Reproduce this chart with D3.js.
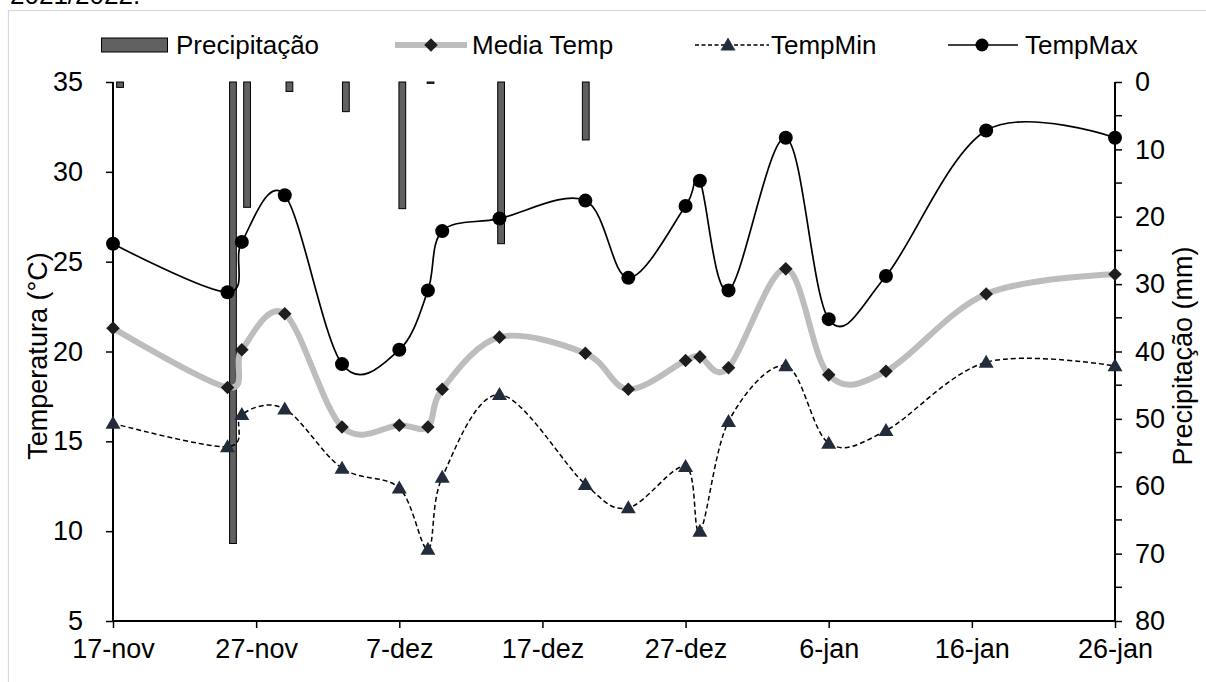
<!DOCTYPE html>
<html>
<head>
<meta charset="utf-8">
<script src="https://cdn.jsdelivr.net/npm/d3@7"></script>
<style>
  html, body { margin: 0; padding: 0; background: #fff; }
  svg { display: block; font-family: "Liberation Sans", Arial, sans-serif; }
</style>
</head>
<body>
<script>
// Observation dates (2021/2022 season)
const dates = ["2021-11-17","2021-11-25","2021-11-26","2021-11-29","2021-12-03","2021-12-07",
  "2021-12-09","2021-12-10","2021-12-14","2021-12-20","2021-12-23","2021-12-27","2021-12-28",
  "2021-12-30","2022-01-03","2022-01-06","2022-01-10","2022-01-17","2022-01-26"];

// Temperatures (°C)
const tempMax   = [26.0, 23.3, 26.1, 28.7, 19.3, 20.1, 23.4, 26.7, 27.4, 28.4, 24.1, 28.1, 29.5, 23.4, 31.9, 21.8, 24.2, 32.3, 31.9];
const mediaTemp = [21.3, 18.0, 20.1, 22.1, 15.8, 15.9, 15.8, 17.9, 20.8, 19.9, 17.9, 19.5, 19.7, 19.1, 24.6, 18.7, 18.9, 23.2, 24.3];
const tempMin   = [16.0, 14.7, 16.5, 16.8, 13.5, 12.4,  9.0, 13.0, 17.6, 12.6, 11.3, 13.6, 10.0, 16.1, 19.2, 14.9, 15.6, 19.4, 19.2];

// Rainfall (mm)
const precip    = [0.8, 68.5, 18.6, 1.4, 4.4, 18.8, 0.2, 0, 24.0, 8.6, 0, 0, 0, 0, 0, 0, 0, 0, 0];

// Axis ticks
const xTickDates  = ["2021-11-17","2021-11-27","2021-12-07","2021-12-17","2021-12-27","2022-01-06","2022-01-16","2022-01-26"];
const xTickLabels = ["17-nov","27-nov","7-dez","17-dez","27-dez","6-jan","16-jan","26-jan"];
const tempTicks   = [5, 10, 15, 20, 25, 30, 35];
const precipTicks = [0, 10, 20, 30, 40, 50, 60, 70, 80];

const W = 1206, H = 682;
const plotL = 113, plotR = 1115, plotT = 82, plotB = 621;
const FONT = 26, TICK_FONT = 27, TITLE_FONT = 27;

const parse = d3.utcParse("%Y-%m-%d");
const day = d3.utcDay;
const start = parse(dates[0]), end = parse(dates[dates.length - 1]);

const svg = d3.select("body").append("svg").attr("width", W).attr("height", H);

// outer frame and the caption line above it
svg.append("rect").attr("x", 8.5).attr("y", 10.5).attr("width", 1210).attr("height", 700)
  .attr("fill", "none").attr("stroke", "#d9d9d9").attr("stroke-width", 1.2);
svg.append("text").attr("x", 10).attr("y", 3.5).attr("font-size", FONT).attr("fill", "#000")
  .text("2021/2022.");

const x = d3.scaleUtc().domain([start, end]).range([plotL, plotR]);
const yT = d3.scaleLinear().domain([5, 35]).range([plotB, plotT]);
const yP = d3.scaleLinear().domain([0, 80]).range([plotT, plotB]);

// one slot per day for the rainfall columns
const dayIndex = d3.range(day.count(start, end) + 1);
const xBand = d3.scaleBand().domain(dayIndex).range([plotL, plotR]).paddingInner(0.52).paddingOuter(0.26);

const rows = dates.map((d, i) => ({
  date: parse(d), di: day.count(start, parse(d)),
  tmax: tempMax[i], tmed: mediaTemp[i], tmin: tempMin[i], p: precip[i]
}));

// rainfall columns hanging from the top (reversed secondary axis)
svg.append("g").selectAll("rect")
  .data(rows.filter(r => r.p > 0))
  .join("rect")
  .attr("x", r => xBand(r.di))
  .attr("y", yP(0))
  .attr("width", xBand.bandwidth())
  .attr("height", r => Math.max(1, yP(r.p) - yP(0)))
  .attr("fill", "#606060")
  .attr("stroke", "#000")
  .attr("stroke-width", 1);

// axes
const axisG = svg.append("g").attr("fill", "#000");

const ax = axisG.append("g").attr("transform", `translate(0,${plotB})`)
  .call(d3.axisBottom(x).tickValues(xTickDates.map(parse)).tickSize(7).tickPadding(11)
    .tickFormat((d, i) => xTickLabels[i]));
const ayl = axisG.append("g").attr("transform", `translate(${plotL},0)`)
  .call(d3.axisLeft(yT).tickValues(tempTicks).tickSize(7).tickPadding(23));
const ayr = axisG.append("g").attr("transform", `translate(${plotR},0)`)
  .call(d3.axisRight(yP).tickValues(precipTicks).tickSize(7).tickPadding(13));
// minor ticks on the rainfall axis
axisG.append("g").selectAll("line")
  .data(d3.range(5, 80, 10))
  .join("line")
  .attr("x1", plotR).attr("x2", plotR + 7)
  .attr("y1", d => yP(d)).attr("y2", d => yP(d))
  .attr("stroke", "#000").attr("stroke-width", 1.5);

[ax, ayl, ayr].forEach(g => {
  g.attr("font-size", TICK_FONT).attr("font-family", null);
  g.selectAll(".domain").attr("stroke", "#000").attr("stroke-width", 2);
  g.selectAll(".tick line").attr("stroke", "#000").attr("stroke-width", 1.5);
  g.selectAll(".tick text").attr("fill", "#000");
});
ax.selectAll(".domain").attr("d", `M${plotL},0H${plotR}`);
ayl.selectAll(".domain").attr("d", `M0,${plotB}V${plotT}`);
ayr.selectAll(".domain").attr("d", `M0,${plotT}V${plotB}`);

// axis titles
const titleY = 356;
svg.append("text")
  .attr("transform", `translate(47,${titleY}) rotate(-90)`)
  .attr("text-anchor", "middle").attr("font-size", TITLE_FONT).attr("fill", "#000")
  .text("Temperatura (°C)");
svg.append("text")
  .attr("transform", `translate(1192,${titleY}) rotate(-90)`)
  .attr("text-anchor", "middle").attr("font-size", TITLE_FONT).attr("fill", "#000")
  .text("Precipitação (mm)");

// smoothed series lines
const curve = d3.curveCardinal.tension(0);
const lineOf = key => d3.line().x(r => x(r.date)).y(r => yT(r[key])).curve(curve);

svg.append("path").datum(rows).attr("d", lineOf("tmed"))
  .attr("fill", "none").attr("stroke", "#bdbdbd").attr("stroke-width", 6);
svg.append("path").datum(rows).attr("d", lineOf("tmin"))
  .attr("fill", "none").attr("stroke", "#000").attr("stroke-width", 1.5).attr("stroke-dasharray", "5,3");
svg.append("path").datum(rows).attr("d", lineOf("tmax"))
  .attr("fill", "none").attr("stroke", "#000").attr("stroke-width", 1.7);

// markers
const diamond = d3.symbol().type(d3.symbolSquare).size(92);
const tri = "M0,-7.5L7.5,5.5L-7.5,5.5Z";

svg.append("g").selectAll("path").data(rows).join("path")
  .attr("d", diamond())
  .attr("transform", r => `translate(${x(r.date)},${yT(r.tmed)}) rotate(45)`)
  .attr("fill", "#1e1e1e");
svg.append("g").selectAll("path").data(rows).join("path")
  .attr("d", tri)
  .attr("transform", r => `translate(${x(r.date)},${yT(r.tmin)})`)
  .attr("fill", "#232c3b");
svg.append("g").selectAll("circle").data(rows).join("circle")
  .attr("cx", r => x(r.date)).attr("cy", r => yT(r.tmax)).attr("r", 7)
  .attr("fill", "#000");

// legend
const lg = svg.append("g").attr("font-size", FONT).attr("fill", "#000");
const ly = 45;
lg.append("rect").attr("x", 101.5).attr("y", 38).attr("width", 66).attr("height", 14)
  .attr("fill", "#606060").attr("stroke", "#000").attr("stroke-width", 1);
lg.append("text").attr("x", 176).attr("y", ly + 9).text("Precipitação");

lg.append("line").attr("x1", 395).attr("x2", 467).attr("y1", ly).attr("y2", ly)
  .attr("stroke", "#bdbdbd").attr("stroke-width", 6);
lg.append("path").attr("d", diamond()).attr("transform", `translate(431,${ly}) rotate(45)`).attr("fill", "#1e1e1e");
lg.append("text").attr("x", 472).attr("y", ly + 9).text("Media Temp");

lg.append("line").attr("x1", 695).attr("x2", 769).attr("y1", ly).attr("y2", ly)
  .attr("stroke", "#000").attr("stroke-width", 1.4).attr("stroke-dasharray", "4,2.5");
lg.append("path").attr("d", tri).attr("transform", `translate(728,${ly})`).attr("fill", "#232c3b");
lg.append("text").attr("x", 771).attr("y", ly + 9).text("TempMin");

lg.append("line").attr("x1", 948).attr("x2", 1018).attr("y1", ly).attr("y2", ly)
  .attr("stroke", "#000").attr("stroke-width", 1.7);
lg.append("circle").attr("cx", 982).attr("cy", ly).attr("r", 6.5).attr("fill", "#000");
lg.append("text").attr("x", 1025).attr("y", ly + 9).text("TempMax");
</script>
</body>
</html>
